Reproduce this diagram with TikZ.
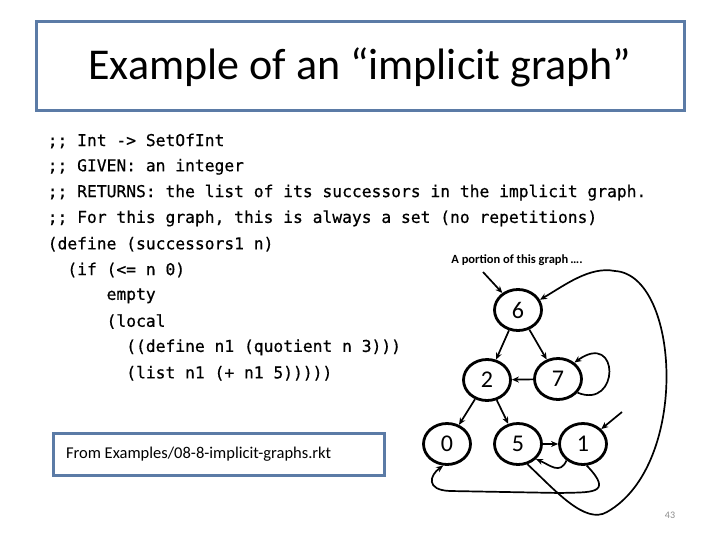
\documentclass[tikz,border=0pt]{standalone}
\usepackage{fontspec}
\setmainfont{Carlito}
\newfontfamily\codefont[FakeBold=0.6]{DejaVu Sans Mono}
\usetikzlibrary{arrows.meta, positioning, shapes.geometric}
\definecolor{cframe}{HTML}{5B7BA6}
\definecolor{cgrey}{HTML}{8C8C8C}
\tikzset{
  every picture/.style={line width=1.5pt},
  frame/.style={draw=cframe, line width=3pt},
  code/.style={anchor=west, inner sep=0pt, font=\codefont\fontsize{16.3}{18}\selectfont},
  vert/.style={draw, ellipse, line width=2.8pt, minimum width=47pt, minimum height=41pt, inner sep=0pt, font=\fontsize{24}{26}\selectfont},
  arrow/.style={-{Stealth[length=7pt, width=6pt]}, line width=1.7pt},
}

\begin{document}
\begin{tikzpicture}[x=1pt, y=-1pt]
  \useasboundingbox (0,0) rectangle (720,540);
  % title
  \draw[frame] (36,22) rectangle (684,111);
  \node[font=\fontsize{44}{48}\selectfont] (title) at (360,67) {Example of an “implicit graph”};
  % code
  \foreach \t [count=\i from 0] in {%
    {;; Int -> SetOfInt},
    {;; GIVEN: an integer},
    {;; RETURNS: the list of its successors in the implicit graph.},
    {;; For this graph, this is always a set (no repetitions)},
    {(define (successors1 n)},
    {\ \ (if (<= n 0)},
    {\ \ \ \ \ \ empty},
    {\ \ \ \ \ \ (local},
    {\ \ \ \ \ \ \ \ ((define n1 (quotient n 3)))},
    {\ \ \ \ \ \ \ \ (list n1 (+ n1 5)))))}}
    \node[code] (line\i) at (47, 141+25.8*\i) {\t};
  % source box
  \draw[frame] (53,433) rectangle (384,475);
  \node[anchor=west, font=\fontsize{16.5}{18}\selectfont] (src) at (62,454) {From Examples/08-8-implicit-graphs.rkt};
  % graph
  \node[font=\bfseries\fontsize{12.5}{14}\selectfont] (cap) at (517,260) {A portion of this graph\,….};
  \node[vert] (n6) at (518,310) {6};
  \node[vert] (n2) at (487,380) {2};
  \node[vert] (n7) at (558,379) {7};
  \node[vert] (n0) at (447,444) {0};
  \node[vert] (n5) at (518,444) {5};
  \node[vert] (n1) at (583,444) {1};
  \coordinate (in6) at (483,272);
  \coordinate (in1) at (622,412);
  \draw[arrow] (in6) -- (n6);
  \draw[arrow] (in1) -- (n1);
  \foreach \a/\c in {n6/n2, n6/n7, n7/n2, n2/n0, n2/n5, n5/n1} \draw[arrow] (\a) -- (\c);
  \draw[arrow] (n7.-35) .. controls (620,410) and (620,330) .. (n7.45);
  \draw[arrow] (n1.-135) .. controls (560,475) and (550,465) .. (n5.-40);
  \draw[arrow] (n1.-80) .. controls (615,495) and (590,492) .. (560,493)
    -- (450,491) .. controls (425,490) and (430,475) .. (n0.-100);
  \draw[arrow] (n5.-65) .. controls (555,490) and (585,525) .. (607,512)
    .. controls (690,465) and (680,275) .. (615,271)
    .. controls (590,266) and (565,285) .. (n6.25);
  % page number
  \node[text=cgrey, font=\fontsize{10}{12}\selectfont] (page) at (670,515) {43};
\end{tikzpicture}
\end{document}
